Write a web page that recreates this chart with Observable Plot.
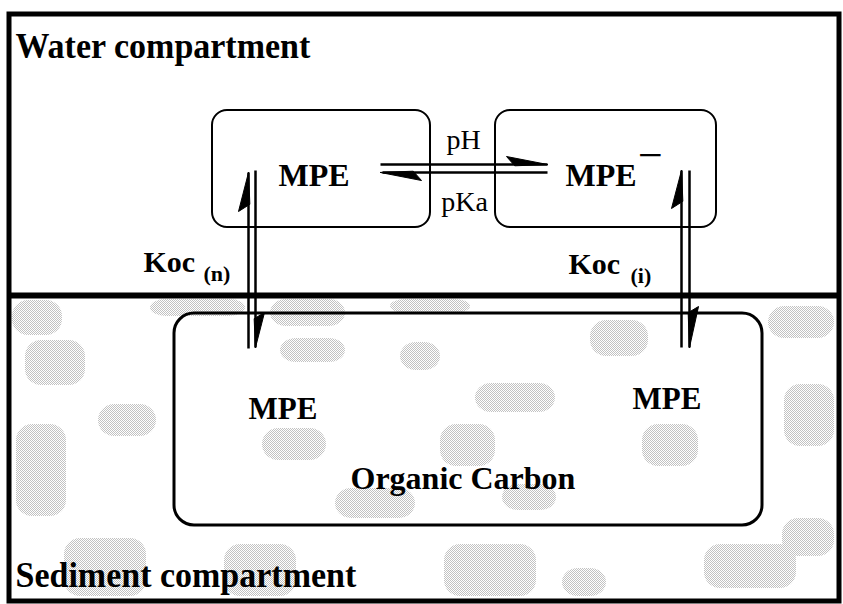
<!DOCTYPE html>
<html>
<head>
<meta charset="utf-8">
<script src="https://cdn.jsdelivr.net/npm/d3@7"></script>
<script src="https://cdn.jsdelivr.net/npm/@observablehq/plot@0.6"></script>
<style>
  body { margin: 0; background: #fff; }
  svg { display: block; }
</style>
</head>
<body>
<div id="chart"></div>
<script>
// ---- Diagram data (pixel-space coordinates) ----
const frame = [{x1: 9, x2: 839, y1: 14, y2: 601}];
const divider = [{x1: 9, x2: 839, y: 295}];

const smallBoxes = [
  {id: "MPE (neutral)", x1: 212, x2: 430, y1: 110, y2: 227},
  {id: "MPE- (ionic)", x1: 495, x2: 716, y1: 110, y2: 227}
];
const carbonBox = [{id: "Organic Carbon", x1: 174, x2: 762, y1: 313, y2: 525}];

const shafts = [
  {id: "pH", x1: 380, y1: 164, x2: 547, y2: 164},
  {id: "pKa", x1: 382, y1: 172, x2: 547, y2: 172},
  {id: "Koc(n) up", x1: 248, y1: 348, x2: 248, y2: 172},
  {id: "Koc(n) down", x1: 255, y1: 170, x2: 255, y2: 347},
  {id: "Koc(i) up", x1: 681, y1: 347, x2: 681, y2: 170},
  {id: "Koc(i) down", x1: 689, y1: 170, x2: 689, y2: 347}
];

// half-arrow heads: tip, barb, back point on shaft
const heads = [
  {id: "pH", x: 547, y: 164}, {id: "pH", x: 506, y: 156}, {id: "pH", x: 514, y: 165},
  {id: "pKa", x: 380, y: 172}, {id: "pKa", x: 421, y: 180}, {id: "pKa", x: 413, y: 171},
  {id: "Koc(n) up", x: 248, y: 172}, {id: "Koc(n) up", x: 238, y: 211}, {id: "Koc(n) up", x: 249, y: 204},
  {id: "Koc(n) down", x: 255, y: 347}, {id: "Koc(n) down", x: 264, y: 312}, {id: "Koc(n) down", x: 254, y: 318},
  {id: "Koc(i) up", x: 681, y: 170}, {id: "Koc(i) up", x: 671, y: 208}, {id: "Koc(i) up", x: 682, y: 201},
  {id: "Koc(i) down", x: 689, y: 347}, {id: "Koc(i) down", x: 698, y: 306}, {id: "Koc(i) down", x: 688, y: 312}
];

const compartmentLabels = [
  {text: "Water compartment", x: 15, y: 57, size: 34},
  {text: "Sediment compartment", x: 15, y: 586, size: 34}
];
const boldLabels = [
  {text: "MPE", x: 278, y: 185, size: 32},
  {text: "MPE", x: 565, y: 185, size: 32},
  {text: "Koc", x: 143, y: 271, size: 30},
  {text: "(n)", x: 203, y: 280, size: 22},
  {text: "Koc", x: 568, y: 273, size: 30},
  {text: "(i)", x: 630, y: 282, size: 22},
  {text: "MPE", x: 248, y: 418, size: 31},
  {text: "MPE", x: 632, y: 408, size: 31},
  {text: "Organic Carbon", x: 350, y: 488, size: 32}
];
const plainLabels = [
  {text: "pH", x: 463, y: 148, size: 28},
  {text: "pKa", x: 464, y: 210, size: 28}
];
const chargeLabels = [{text: "\u2212", x: 650, y: 169, size: 44}];

// light dithered patches of the sediment texture
const sedimentPatches = [
  {x1: 12, x2: 62, y1: 300, y2: 335}, {x1: 25, x2: 85, y1: 340, y2: 385},
  {x1: 150, x2: 245, y1: 299, y2: 316}, {x1: 270, x2: 345, y1: 299, y2: 326},
  {x1: 390, x2: 470, y1: 299, y2: 313}, {x1: 280, x2: 345, y1: 338, y2: 362},
  {x1: 400, x2: 440, y1: 342, y2: 370}, {x1: 590, x2: 648, y1: 320, y2: 356},
  {x1: 475, x2: 555, y1: 383, y2: 412}, {x1: 440, x2: 495, y1: 424, y2: 466},
  {x1: 642, x2: 698, y1: 424, y2: 466}, {x1: 262, x2: 326, y1: 428, y2: 460},
  {x1: 335, x2: 415, y1: 488, y2: 518}, {x1: 502, x2: 556, y1: 484, y2: 510},
  {x1: 768, x2: 834, y1: 306, y2: 338}, {x1: 784, x2: 834, y1: 384, y2: 446},
  {x1: 782, x2: 834, y1: 518, y2: 556}, {x1: 16, x2: 66, y1: 424, y2: 516},
  {x1: 64, x2: 146, y1: 538, y2: 596}, {x1: 224, x2: 296, y1: 544, y2: 596},
  {x1: 444, x2: 536, y1: 544, y2: 596}, {x1: 704, x2: 796, y1: 544, y2: 588},
  {x1: 562, x2: 606, y1: 568, y2: 596}, {x1: 98, x2: 156, y1: 404, y2: 436}
];

const serif = "'Liberation Serif', 'Times New Roman', serif";

const chart = Plot.plot({
  width: 843,
  height: 604,
  margin: 0,
  x: {domain: [0, 843], range: [0, 843], axis: null},
  y: {domain: [0, 604], range: [0, 604], axis: null},
  style: {background: "white", fontFamily: serif},
  marks: [
    Plot.rect(sedimentPatches, {x1: "x1", x2: "x2", y1: "y1", y2: "y2", rx: 16, fill: "url(#dither)"}),
    Plot.rect(smallBoxes, {x1: "x1", x2: "x2", y1: "y1", y2: "y2", rx: 15, fill: "none", stroke: "black", strokeWidth: 2}),
    Plot.rect(carbonBox, {x1: "x1", x2: "x2", y1: "y1", y2: "y2", rx: 20, fill: "none", stroke: "black", strokeWidth: 3}),
    Plot.ruleY(divider, {y: "y", x1: "x1", x2: "x2", stroke: "black", strokeWidth: 6}),
    Plot.rect(frame, {x1: "x1", x2: "x2", y1: "y1", y2: "y2", fill: "none", stroke: "black", strokeWidth: 5}),
    Plot.link(shafts, {x1: "x1", y1: "y1", x2: "x2", y2: "y2", stroke: "black", strokeWidth: 2.5}),
    Plot.line(heads, {x: "x", y: "y", z: "id", fill: "black", stroke: "black", strokeWidth: 1, curve: "linear-closed"}),
    Plot.text(compartmentLabels, {x: "x", y: "y", text: "text", fontSize: "size", fontWeight: "bold", textAnchor: "start", lineAnchor: "bottom", fill: "black", fontFamily: serif, className: "stretch"}),
    Plot.text(boldLabels, {x: "x", y: "y", text: "text", fontSize: "size", fontWeight: "bold", textAnchor: "start", lineAnchor: "bottom", fill: "black", fontFamily: serif}),
    Plot.text(plainLabels, {x: "x", y: "y", text: "text", fontSize: "size", textAnchor: "middle", lineAnchor: "bottom", fill: "black", fontFamily: serif}),
    Plot.text(chargeLabels, {x: "x", y: "y", text: "text", fontSize: "size", textAnchor: "middle", lineAnchor: "bottom", fill: "black", fontFamily: serif})
  ]
});

// dither pattern definition for the sediment texture
const ns = "http://www.w3.org/2000/svg";
const defs = document.createElementNS(ns, "defs");
const pat = document.createElementNS(ns, "pattern");
pat.setAttribute("id", "dither");
pat.setAttribute("width", "2");
pat.setAttribute("height", "2");
pat.setAttribute("patternUnits", "userSpaceOnUse");
[[0, 0], [1, 1]].forEach(([px, py]) => {
  const r = document.createElementNS(ns, "rect");
  r.setAttribute("x", px); r.setAttribute("y", py);
  r.setAttribute("width", 1); r.setAttribute("height", 1);
  r.setAttribute("fill", "#c2c2c2");
  pat.appendChild(r);
});
defs.appendChild(pat);
chart.insertBefore(defs, chart.firstChild);

// the reference's section titles are slightly taller than the font's proportions
chart.querySelectorAll("g.stretch text").forEach((el) => {
  const t = el.getAttribute("transform");
  if (t && t.includes("translate")) el.setAttribute("transform", t + " scale(1,1.08)");
});

document.getElementById("chart").appendChild(chart);
</script>
</body>
</html>
